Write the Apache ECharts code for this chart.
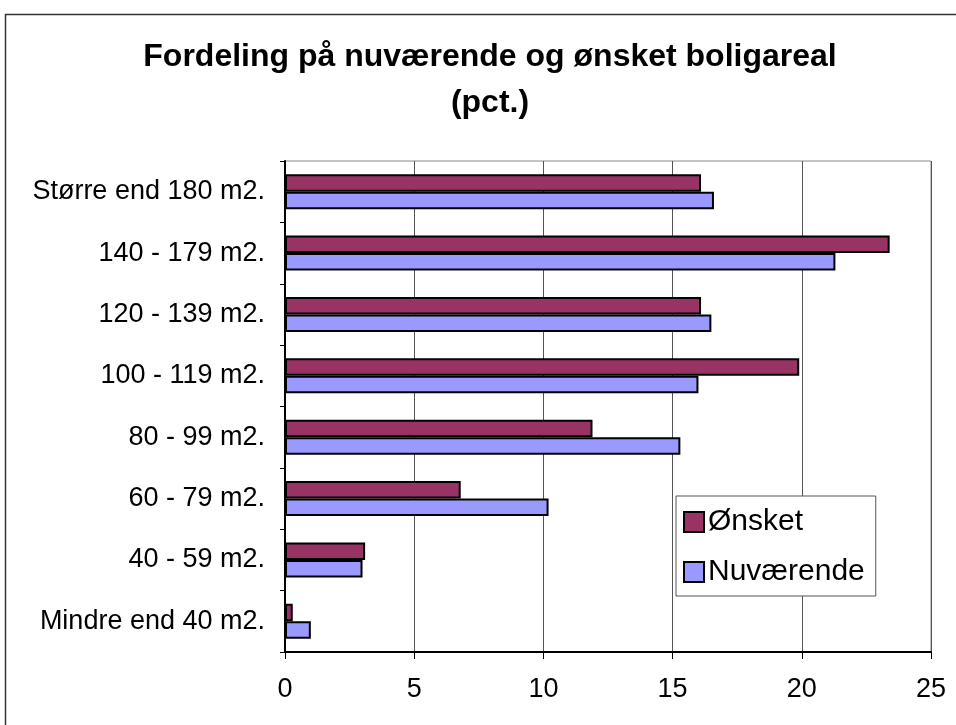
<!DOCTYPE html>
<html>
<head>
<meta charset="utf-8">
<script src="https://cdn.jsdelivr.net/npm/echarts@6/dist/echarts.min.js"></script>
<style>
  html, body { margin: 0; padding: 0; background: #fff; }
  #chart { width: 956px; height: 725px; }
</style>
</head>
<body>
<div id="chart"></div>
<script>
// categories bottom -> top (category axis runs upward)
var categories = ['Mindre end 40 m2.', '40 - 59 m2.', '60 - 79 m2.', '80 - 99 m2.',
                  '100 - 119 m2.', '120 - 139 m2.', '140 - 179 m2.', 'Større end 180 m2.'];
var onsket = [0.3, 3.1, 6.8, 11.9, 19.9, 16.1, 23.4, 16.1];
var nuvaerende = [1.0, 3.0, 10.2, 15.3, 16.0, 16.5, 21.3, 16.6];
var xTicks = [0, 5, 10, 15, 20, 25];

var font = 'Liberation Sans, Arial, sans-serif';
var chart = echarts.init(document.getElementById('chart'));

var option = {
    animation: false,
    backgroundColor: '#fff',
    textStyle: { fontFamily: font },
    title: {
        text: 'Fordeling på nuværende og ønsket boligareal\n(pct.)',
        left: 490,
        top: 34,
        padding: 0,
        textAlign: 'center',
        textStyle: { fontSize: 32, fontWeight: 'bold', color: '#000', lineHeight: 46, fontFamily: font }
    },
    graphic: [{
        type: 'rect',
        shape: { x: 5.5, y: 14.5, width: 1000, height: 1000 },
        style: { fill: 'none', stroke: '#333', lineWidth: 1.5 },
        silent: true
    }],
    legend: {
        data: ['Ønsket', 'Nuværende'],
        orient: 'vertical',
        left: 676,
        top: 496,
        padding: [11, 11, 9, 7],
        itemGap: 20,
        itemWidth: 20,
        itemHeight: 20,
        icon: 'rect',
        borderColor: '#555',
        borderWidth: 1,
        backgroundColor: '#fff',
        textStyle: { fontSize: 30, lineHeight: 26, color: '#000', fontFamily: font, padding: [0, 0, 0, -1] },
        itemStyle: { borderColor: '#000', borderWidth: 2 }
    },
    grid: {
        left: 285,
        right: 25,
        top: 161,
        bottom: 73,
        show: true,
        borderColor: '#888',
        borderWidth: 1
    },
    xAxis: {
        type: 'value',
        min: 0,
        max: 25,
        interval: 5,
        axisLine: { show: true, lineStyle: { color: '#000', width: 2 } },
        axisTick: { show: true, length: 7, lineStyle: { color: '#000' } },
        axisLabel: {
            margin: 24,
            fontSize: 27,
            color: '#000',
            fontFamily: font,
            formatter: function (v) { return xTicks.indexOf(v) >= 0 ? String(v) : ''; }
        },
        splitLine: { show: true, lineStyle: { color: '#555', width: 1 } }
    },
    yAxis: {
        type: 'category',
        data: categories,
        axisLine: { show: true, lineStyle: { color: '#000', width: 2 } },
        axisTick: { show: true, length: 5, lineStyle: { color: '#000' } },
        axisLabel: { margin: 20, fontSize: 27, color: '#000', fontFamily: font }
    },
    series: [
        {
            name: 'Ønsket',
            type: 'bar',
            data: onsket,
            barGap: '0%',
            barCategoryGap: '43%',
            itemStyle: { color: '#993366', borderColor: '#000', borderWidth: 2 }
        },
        {
            name: 'Nuværende',
            type: 'bar',
            data: nuvaerende,
            barGap: '0%',
            barCategoryGap: '43%',
            itemStyle: { color: '#9999FF', borderColor: '#000', borderWidth: 2 }
        }
    ]
};
chart.setOption(option);
</script>
</body>
</html>
